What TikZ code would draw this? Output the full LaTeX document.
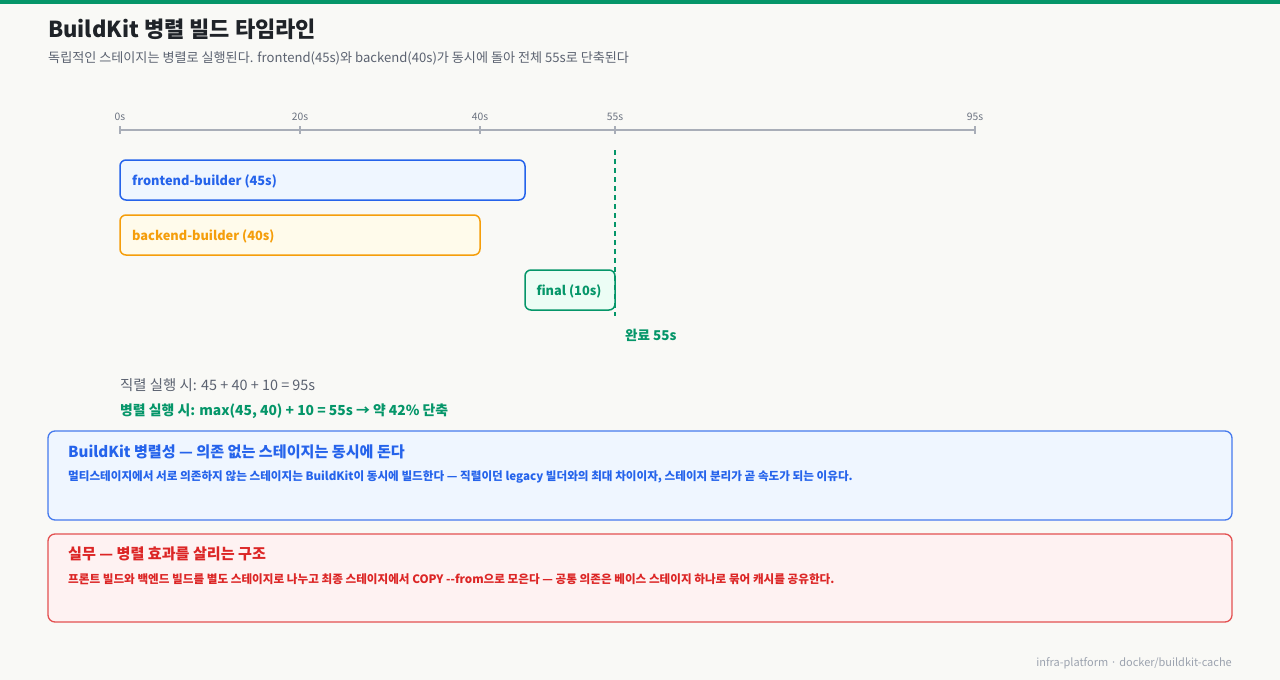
\documentclass[tikz,border=0pt]{standalone}
\usepackage{fontspec}
\setmainfont{Noto Sans CJK KR}
\usetikzlibrary{positioning}
\definecolor{bgc}{HTML}{F9F9F6}
\definecolor{topbar}{HTML}{059669}
\definecolor{titlec}{HTML}{1F2328}
\definecolor{subc}{HTML}{5B6270}
\definecolor{axisc}{HTML}{A9AEB8}
\definecolor{ticklab}{HTML}{6B7280}
\definecolor{bluec}{HTML}{2563EB}
\definecolor{bluefill}{HTML}{EFF6FF}
\definecolor{orangec}{HTML}{F59E0B}
\definecolor{orangefill}{HTML}{FFFBEB}
\definecolor{greenc}{HTML}{059669}
\definecolor{greenfill}{HTML}{ECFDF5}
\definecolor{redc}{HTML}{DC2626}
\definecolor{redfill}{HTML}{FEF2F2}
\definecolor{footc}{HTML}{9CA3AF}
\tikzset{
  px/.style={x=1pt,y=-1pt},
  ticklabel/.style={font=\fontsize{10.3}{12}\selectfont, text=ticklab, inner sep=0pt, anchor=base},
  bar/.style={rounded corners=6pt, line width=1.5pt},
  barlabel/.style={font=\bfseries\fontsize{12.8}{15}\selectfont, inner sep=0pt, anchor=west},
  card/.style={rounded corners=7pt, line width=1.3pt},
  cardtitle/.style={font=\bfseries\fontsize{15.1}{18}\selectfont, inner sep=0pt, anchor=base west},
  cardbody/.style={font=\bfseries\fontsize{11.6}{13}\selectfont, inner sep=0pt, anchor=base west},
}
\begin{document}
\begin{tikzpicture}[px]
\useasboundingbox (0,0) rectangle (1280,680);
\fill[bgc] (0,0) rectangle (1280,680);
\fill[topbar] (0,0) rectangle (1280,4);
% title
\node[font=\bfseries\fontsize{22}{26}\selectfont, text=titlec, inner sep=0pt, anchor=base west] (title) at (48,37) {BuildKit 병렬 빌드 타임라인};
\node[font=\fontsize{13.1}{15}\selectfont, text=subc, inner sep=0pt, anchor=base west] (sub) at (48,62) {독립적인 스테이지는 병렬로 실행된다. frontend(45s)와 backend(40s)가 동시에 돌아 전체 55s로 단축된다};
% axis
\coordinate (a0) at (120,130);
\coordinate (a95) at (975,130);
\draw[axisc, line width=1.5pt] (a0) -- (a95);
\foreach \t/\x in {0/120,20/300,40/480,55/615,95/975}{
  \draw[axisc, line width=1.3pt] (\x,126) -- (\x,134);
  \node[ticklabel] (t\t) at (\x,120) {\t s};
}
% bars
\draw[bar, draw=bluec, fill=bluefill] (120,160) rectangle (525,200);
\node[barlabel, text=bluec] (fe) at (132,181) {frontend-builder (45s)};
\draw[bar, draw=orangec, fill=orangefill] (120,215) rectangle (480,255);
\node[barlabel, text=orangec] (be) at (132,236) {backend-builder (40s)};
\draw[bar, draw=greenc, fill=greenfill] (525,270) rectangle (615,310);
\node[barlabel, text=greenc, anchor=center] (fin) at (569,291) {final (10s)};
% finish line
\coordinate (d1) at (615,150);
\coordinate (d2) at (615,316);
\draw[greenc, line width=1.5pt, dash pattern=on 5pt off 4pt] (d1) -- (d2);
\node[font=\bfseries\fontsize{13.5}{15}\selectfont, text=greenc, inner sep=0pt, anchor=base west] (done) at (625,340) {완료 55s};
% summary
\node[font=\fontsize{14.4}{16}\selectfont, text=subc, inner sep=0pt, anchor=base west] (serial) at (120,390) {직렬 실행 시: 45 + 40 + 10 = 95s};
\node[font=\bfseries\fontsize{13.85}{16}\selectfont, text=greenc, inner sep=0pt, anchor=base west] (par) at (120,415) {병렬 실행 시: max(45, 40) + 10 = 55s → 약 42\% 단축};
% cards
\draw[card, draw=bluec!85, fill=bluefill] (48,431) rectangle (1232,520);
\node[cardtitle, text=bluec] (c1t) at (68,457) {BuildKit 병렬성 — 의존 없는 스테이지는 동시에 돈다};
\node[cardbody, text=bluec] (c1b) at (68,480) {멀티스테이지에서 서로 의존하지 않는 스테이지는 BuildKit이 동시에 빌드한다 — 직렬이던 legacy 빌더와의 최대 차이이자, 스테이지 분리가 곧 속도가 되는 이유다.};
\draw[card, draw=redc!80, fill=redfill] (48,534) rectangle (1232,622);
\node[cardtitle, text=redc] (c2t) at (68,559) {실무 — 병렬 효과를 살리는 구조};
\node[cardbody, text=redc] (c2b) at (68,583) {프론트 빌드와 백엔드 빌드를 별도 스테이지로 나누고 최종 스테이지에서 COPY -{}-from으로 모은다 — 공통 의존은 베이스 스테이지 하나로 묶어 캐시를 공유한다.};
% footer
\node[font=\fontsize{11}{13}\selectfont, text=footc, inner sep=0pt, anchor=base east] (foot) at (1232,666) {infra-platform · docker/buildkit-cache};
\end{tikzpicture}
\end{document}
